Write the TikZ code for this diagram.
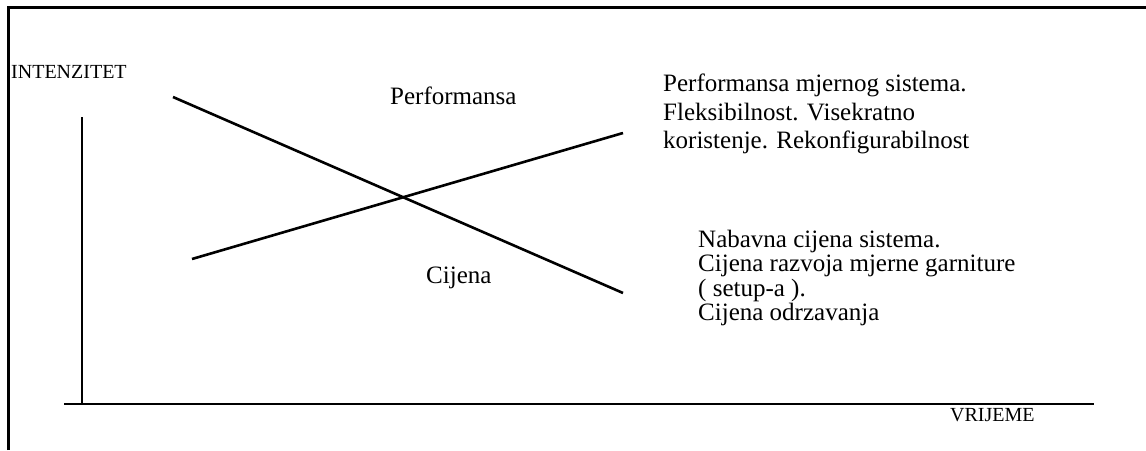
\documentclass[tikz,border=0pt]{standalone}
\usepackage{fontspec}
\setmainfont{Liberation Serif}
\begin{document}
\begin{tikzpicture}[x=1pt,y=-1pt,
    txt/.style={inner sep=0pt, anchor=base west, font=\fontsize{25}{26}\selectfont},
    para/.style={inner sep=0pt, anchor=north west, align=left},
    axtxt/.style={inner sep=0pt, anchor=base west, font=\fontsize{20}{22}\selectfont},
    trend/.style={line width=2.6pt}]
    \useasboundingbox (0,0) rectangle (1146,450);

    % frame
    \draw[line width=3pt] (8.5,450) -- (8.5,7.5) -- (1146,7.5);

    % axes
    \coordinate (ytop) at (82,117);
    \coordinate (ybot) at (82,404);
    \coordinate (xleft) at (64,404);
    \coordinate (xright) at (1094,404);
    \draw[line width=2.6pt] (ytop) -- (ybot);
    \draw[line width=2.6pt] (xleft) -- (xright);
    \node[axtxt] (intenz) at (11,78) {INTENZITET};
    \node[axtxt] (vrijeme) at (950,421) {VRIJEME};

    % trend lines
    \coordinate (cstart) at (173,97);
    \coordinate (cend) at (623,293);
    \coordinate (pstart) at (192,259);
    \coordinate (pend) at (623,133);
    \draw[trend] (cstart) -- (cend);
    \draw[trend] (pstart) -- (pend);

    \node[txt] (perf) at (390,104) {Performansa};
    \node[txt] (cij) at (426,283) {Cijena};

    % descriptions
    \node[para, font=\fontsize{25}{28.5}\selectfont] (perfdesc) at (663,74) {Performansa mjernog sistema.\\
        Fleksibilnost. Visekratno\\ koristenje. Rekonfigurabilnost};
    \node[para, font=\fontsize{25}{24.3}\selectfont] (cijdesc) at (698,230) {Nabavna cijena sistema.\\
        Cijena razvoja mjerne garniture\\ ( setup-a ).\\ Cijena odrzavanja};
\end{tikzpicture}
\end{document}
